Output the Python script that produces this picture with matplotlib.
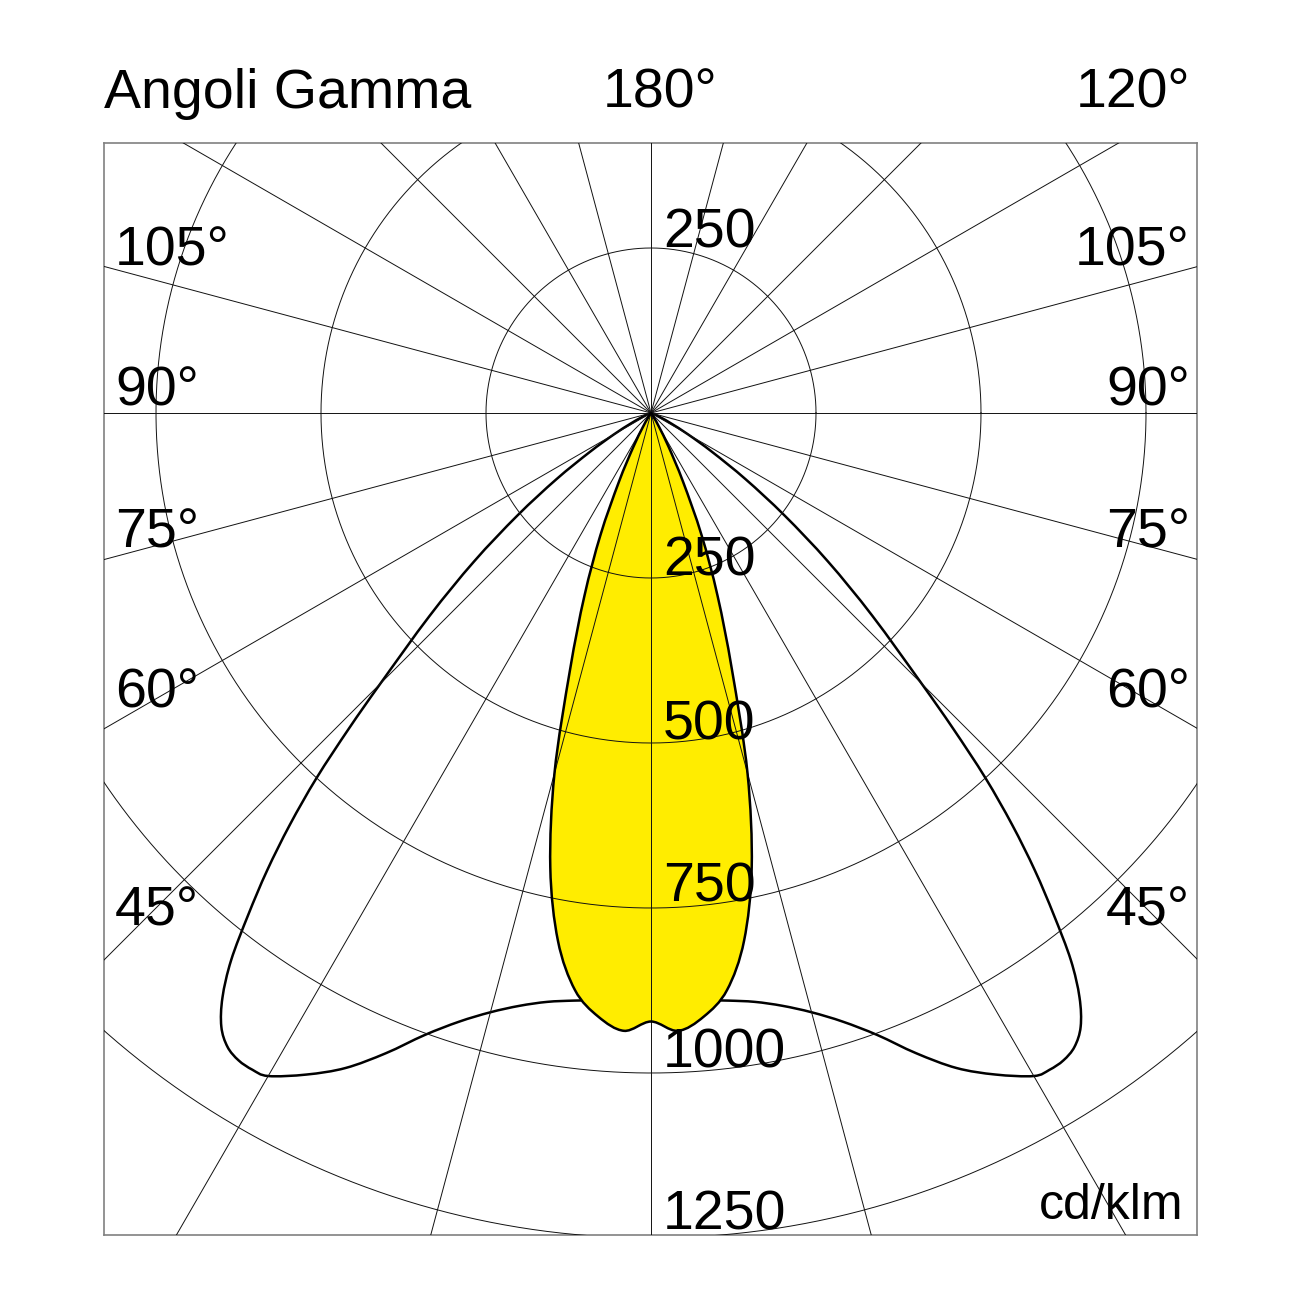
import numpy as np
import matplotlib.pyplot as plt
from matplotlib.path import Path
from matplotlib.patches import PathPatch

# photometric data, gamma in degrees from nadir, intensity in cd/klm
gamma_narrow = [0, 2.5, 5, 7.5, 10, 12.5, 15, 17.5, 20, 22.5, 25, 27.5, 30, 32.5, 35, 40, 45, 90]
cd_narrow = [922, 937, 918, 882, 812, 705, 565, 408, 295, 200, 115, 58, 25, 10, 4, 0, 0, 0]

gamma_wide = [0, 2.5, 5, 7.5, 10, 12.5, 15, 17.5, 20, 22.5, 25, 27.5, 30, 31.25, 32.5,
              33.75, 35, 36.25, 37.5, 38.75, 40, 41.25, 42.5, 43.75, 45, 47.5, 50,
              52.5, 55, 57.5, 60, 62.5, 65, 70, 75, 90]
cd_wide = [888, 889, 893, 898, 906, 920, 940, 967, 1003, 1050, 1095, 1130, 1160, 1164, 1163,
           1155, 1135, 1098, 1045, 975, 905, 830, 750, 662, 580, 455, 350,
           255, 175, 110, 65, 35, 18, 4, 0, 0]

rings = [250, 500, 750, 1000, 1250]
spokes = np.arange(0, 360, 15)

left_labels = ["105°", "90°", "75°", "60°", "45°"]
right_labels = ["105°", "90°", "75°", "60°", "45°"]
ring_labels = ["250", "500", "750", "1000", "1250"]

W = 1302


def fpos(x, y):
    return x / W, 1 - y / W


def mirror(g, r):
    g = np.radians(np.asarray(g, float))
    r = np.asarray(r, float)
    gg = np.concatenate([-g[::-1], g[1:]])
    rr = np.concatenate([r[::-1], r[1:]])
    return rr * np.sin(gg), -rr * np.cos(gg)


def smooth_path(x, y):
    # catmull-rom through the measured points, drawn as cubic beziers
    p = np.column_stack([x, y])
    ext = np.vstack([p[0], p, p[-1]])
    verts = [p[0]]
    codes = [Path.MOVETO]
    for i in range(len(p) - 1):
        p0, p1, p2, p3 = ext[i], ext[i + 1], ext[i + 2], ext[i + 3]
        verts += [p1 + (p2 - p0) / 6, p2 - (p3 - p1) / 6, p2]
        codes += [Path.CURVE4] * 3
    return Path(verts, codes)


plt.rcParams['font.family'] = ['Liberation Sans', 'DejaVu Sans']
fig = plt.figure(figsize=(13.02, 13.02), dpi=100)
ax = fig.add_axes([104 / W, 1 - 1235 / W, 1093 / W, 1092 / W])

# wide distribution (black outline)
xw, yw = mirror(gamma_wide, cd_wide)
ax.add_patch(PathPatch(smooth_path(xw, yw), fill=False, ec='black', lw=1.8, zorder=1))

# narrow distribution (yellow)
xn, yn = mirror(gamma_narrow, cd_narrow)
pn = smooth_path(xn, yn)
ax.add_patch(PathPatch(pn, fc='#ffed00', ec='none', zorder=2))
ax.add_patch(PathPatch(pn, fill=False, ec='black', lw=1.8, zorder=4))

# grid
t = np.linspace(0, 2 * np.pi, 1441)
for r in rings:
    ax.plot(r * np.cos(t), r * np.sin(t), color='#111111', lw=0.7, zorder=3)
for a in spokes:
    a = np.radians(a)
    ax.plot([0, 3000 * np.sin(a)], [0, -3000 * np.cos(a)], color='#111111', lw=0.7, zorder=3)

ax.set_xlim((104 - 651) / 0.66, (1197 - 651) / 0.66)
ax.set_ylim((413 - 1235) / 0.66, (413 - 143) / 0.66)
ax.set_xticks([])
ax.set_yticks([])
for s in ax.spines.values():
    s.set_color('#808080')
    s.set_linewidth(1.2)

fs = 40
fig.text(*fpos(104, 108), "Angoli Gamma", fontsize=fs, ha='left', va='baseline')
fig.text(*fpos(603, 108), "180°", fontsize=fs, ha='left', va='baseline')
fig.text(*fpos(1190, 108), "120°", fontsize=fs, ha='right', va='baseline')

side_y = [266, 405, 547, 708, 925]
for lab, y in zip(left_labels, side_y):
    fig.text(*fpos(115, y), lab, fontsize=fs, ha='left', va='baseline')
for lab, y in zip(right_labels, side_y):
    fig.text(*fpos(1190, y), lab, fontsize=fs, ha='right', va='baseline')

fig.text(*fpos(663, 247), "250", fontsize=fs, ha='left', va='baseline')
ring_y = [575, 740, 902, 1068, 1230]
for lab, y in zip(ring_labels, ring_y):
    fig.text(*fpos(663, y), lab, fontsize=fs, ha='left', va='baseline')

fig.text(*fpos(1183, 1219), "cd/klm", fontsize=36, ha='right', va='baseline')

fig.savefig('out.png', dpi=100, facecolor='white')
